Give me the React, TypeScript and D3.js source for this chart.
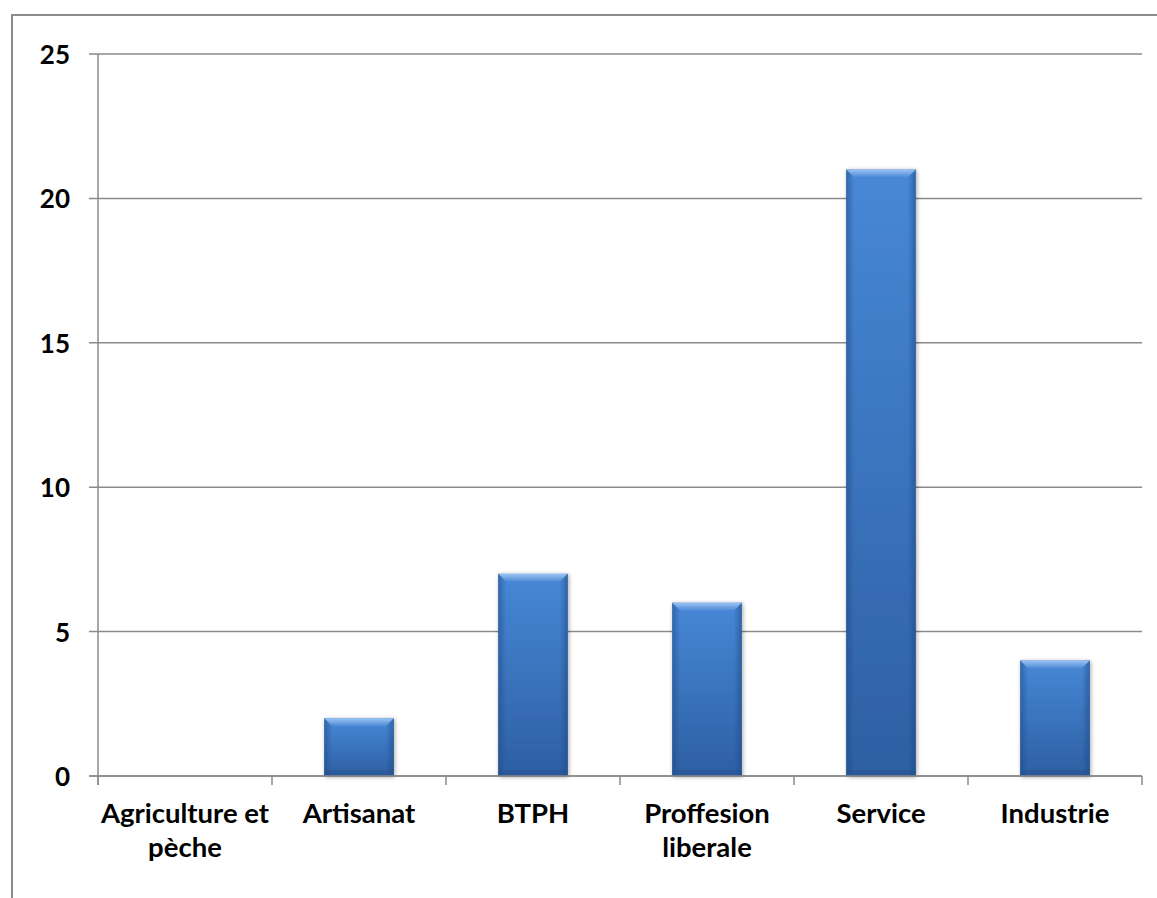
import React from "react";
import * as d3 from "d3";

const categories = [
  "Agriculture et\npèche",
  "Artisanat",
  "BTPH",
  "Proffesion\nliberale",
  "Service",
  "Industrie",
];
const values = [0, 2, 7, 6, 21, 4];
const yTicks = [0, 5, 10, 15, 20, 25];

const width = 1157;
const height = 898;
const plot = { left: 98, right: 1142, top: 54, bottom: 776 };
const font = "Lato, 'Open Sans', sans-serif";

const App: React.FC = () => {
  const x = d3
    .scaleBand<string>()
    .domain(categories)
    .range([plot.left, plot.right])
    .paddingInner(0.6)
    .paddingOuter(0.3);
  const step = x.step();
  const y = d3.scaleLinear().domain([0, 25]).range([plot.bottom, plot.top]);

  const bw = x.bandwidth();
  const bevel = 8;

  return (
    <svg
      width={width}
      height={height}
      style={{ position: "absolute", left: 0, top: 0 }}
    >
      <defs>
        <linearGradient id="barV" x1="0" y1="0" x2="0" y2="1">
          <stop offset="0%" stopColor="#4788d6" />
          <stop offset="100%" stopColor="#2d5fa3" />
        </linearGradient>
        <linearGradient id="edgeL" x1="0" y1="0" x2="1" y2="0">
          <stop offset="0%" stopColor="#1f4a86" stopOpacity={0.55} />
          <stop offset="100%" stopColor="#1f4a86" stopOpacity={0} />
        </linearGradient>
        <linearGradient id="edgeR" x1="1" y1="0" x2="0" y2="0">
          <stop offset="0%" stopColor="#1f4a86" stopOpacity={0.6} />
          <stop offset="100%" stopColor="#1f4a86" stopOpacity={0} />
        </linearGradient>
        <linearGradient id="topBev" x1="0" y1="0" x2="0" y2="1">
          <stop offset="0%" stopColor="#9cc3f3" />
          <stop offset="100%" stopColor="#4a88d5" />
        </linearGradient>
        <filter id="shadow" x="-20%" y="-20%" width="140%" height="140%">
          <feGaussianBlur in="SourceAlpha" stdDeviation="2" />
          <feOffset dx="1" dy="1" result="b" />
          <feComponentTransfer>
            <feFuncA type="linear" slope="0.35" />
          </feComponentTransfer>
          <feMerge>
            <feMergeNode />
            <feMergeNode in="SourceGraphic" />
          </feMerge>
        </filter>
      </defs>

      {/* outer chart border */}
      <rect
        x={12}
        y={15}
        width={width + 20}
        height={height + 20}
        fill="white"
        stroke="#8c8c8c"
        strokeWidth={2}
      />

      {/* gridlines + y ticks */}
      {yTicks.map((t) => (
        <g key={t}>
          <line
            x1={plot.left - 9}
            x2={plot.right}
            y1={y(t)}
            y2={y(t)}
            stroke="#8a8a8a"
            strokeWidth={1.5}
          />
          <text
            x={70}
            y={y(t)}
            textAnchor="end"
            dominantBaseline="central"
            fontFamily={font}
            fontWeight="bold"
            fontSize={26}
            fill="#000"
          >
            {t}
          </text>
        </g>
      ))}

      {/* y axis */}
      <line
        x1={plot.left}
        x2={plot.left}
        y1={plot.top}
        y2={plot.bottom + 9}
        stroke="#8a8a8a"
        strokeWidth={1.5}
      />

      {/* category ticks */}
      {d3.range(categories.length + 1).map((i) => (
        <line
          key={i}
          x1={plot.left + i * step}
          x2={plot.left + i * step}
          y1={plot.bottom}
          y2={plot.bottom + 9}
          stroke="#8a8a8a"
          strokeWidth={1.5}
        />
      ))}

      {/* bars */}
      {categories.map((c, i) => {
        const v = values[i];
        if (v <= 0) return null;
        const x0 = x(c)!;
        const y0 = y(v);
        const h = plot.bottom - y0;
        return (
          <g key={c} filter="url(#shadow)">
            <rect x={x0} y={y0} width={bw} height={h} fill="url(#barV)" />
            <rect x={x0} y={y0} width={bevel} height={h} fill="url(#edgeL)" />
            <rect
              x={x0 + bw - bevel}
              y={y0}
              width={bevel}
              height={h}
              fill="url(#edgeR)"
            />
            <path
              d={`M${x0},${y0} L${x0 + bw},${y0} L${x0 + bw - bevel},${
                y0 + bevel
              } L${x0 + bevel},${y0 + bevel} Z`}
              fill="url(#topBev)"
            />
            <rect
              x={x0}
              y={plot.bottom - 6}
              width={bw}
              height={6}
              fill="#244f8c"
              opacity={0.35}
            />
          </g>
        );
      })}

      {/* x axis line */}
      <line
        x1={plot.left - 9}
        x2={plot.right}
        y1={plot.bottom}
        y2={plot.bottom}
        stroke="#8a8a8a"
        strokeWidth={1.5}
      />

      {/* category labels */}
      {categories.map((c) => {
        const cx = x(c)! + bw / 2;
        return (
          <text
            key={c}
            x={cx}
            y={823}
            textAnchor="middle"
            fontFamily={font}
            fontWeight="bold"
            fontSize={27.5}
            fill="#000"
          >
            {c.split("\n").map((line, j) => (
              <tspan key={j} x={cx} dy={j === 0 ? 0 : 34}>
                {line}
              </tspan>
            ))}
          </text>
        );
      })}
    </svg>
  );
};

export default App;
